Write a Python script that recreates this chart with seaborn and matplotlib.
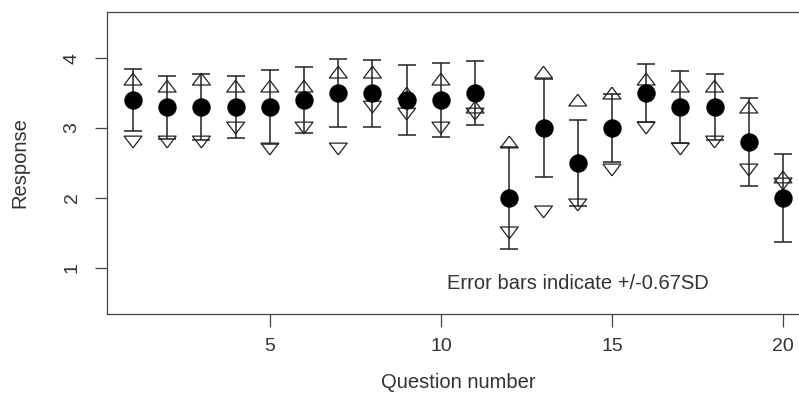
import numpy as np
import pandas as pd
import matplotlib
matplotlib.use("Agg")
import matplotlib.pyplot as plt
import seaborn as sns

# values
question = list(range(1, 21))
mean_resp = [3.4, 3.3, 3.3, 3.3, 3.3, 3.4, 3.5, 3.5, 3.4, 3.4,
             3.5, 2.0, 3.0, 2.5, 3.0, 3.5, 3.3, 3.3, 2.8, 2.0]
err_half = [0.44, 0.45, 0.47, 0.44, 0.53, 0.47, 0.49, 0.48, 0.50, 0.53,
            0.46, 0.73, 0.70, 0.61, 0.49, 0.42, 0.51, 0.47, 0.63, 0.63]
tri_up = [3.7, 3.6, 3.7, 3.6, 3.6, 3.6, 3.8, 3.8, 3.5, 3.7,
          3.3, 2.8, 3.8, 3.4, 3.5, 3.7, 3.6, 3.6, 3.3, 2.3]
tri_down = [2.8, 2.8, 2.8, 3.0, 2.7, 3.0, 2.7, 3.3, 3.2, 3.0,
            3.2, 1.5, 1.8, 1.9, 2.4, 3.0, 2.7, 2.8, 2.4, 2.2]

df = pd.DataFrame({'question': question, 'mean': mean_resp, 'err': err_half,
                   'up': tri_up, 'down': tri_down})

sns.set_style("white")
plt.rcParams['font.family'] = ['Liberation Sans', 'DejaVu Sans']

fig = plt.figure(figsize=(7.99, 3.99), dpi=100)
# axes run past the right edge, like the cropped original
ax = fig.add_axes([107 / 799, 85 / 399, 702 / 799, 302 / 399])

# flatter open triangles, like R's pch 2 / 6
up_mark = [(0, 0.66), (-1, -0.66), (1, -0.66), (0, 0.66)]
down_mark = [(0, -0.66), (-1, 0.66), (1, 0.66), (0, -0.66)]

ink = '#222222'
ax.errorbar(df['question'], df['mean'], yerr=df['err'], fmt='none',
            ecolor=ink, elinewidth=1.1, capsize=6.5, capthick=1.1, zorder=2)
sns.scatterplot(data=df, x='question', y='up', marker=up_mark, s=165,
                facecolor='none', edgecolor=ink, linewidth=0.9, ax=ax, zorder=3)
sns.scatterplot(data=df, x='question', y='down', marker=down_mark, s=165,
                facecolor='none', edgecolor=ink, linewidth=0.9, ax=ax, zorder=3)
sns.scatterplot(data=df, x='question', y='mean', marker='o', s=150,
                color='black', edgecolor='black', ax=ax, zorder=4)

ax.set_xlim(0.24, 20.76)
ax.set_ylim(0.34, 4.66)
ax.set_xticks([5, 10, 15, 20])
ax.set_yticks([1, 2, 3, 4])
for lab in ax.get_yticklabels():
    lab.set_rotation(90)
    lab.set_va('center')

txt = '#333333'
ax.tick_params(axis='both', direction='out', length=9, width=0.9, color='#444444',
               labelsize=14, labelcolor=txt, left=True, bottom=True)
ax.tick_params(axis='x', pad=8)
ax.tick_params(axis='y', pad=10)
for sp in ax.spines.values():
    sp.set_color('#444444')
    sp.set_linewidth(0.9)

ax.set_xlabel('Question number', fontsize=14.5, color=txt, labelpad=13)
ax.set_ylabel('Response', fontsize=14.5, color=txt, labelpad=25)
ax.text(14, 0.77, 'Error bars indicate +/-0.67SD', ha='center', va='center',
        fontsize=14.5, color=txt)

fig.savefig('out.png', dpi=100)
